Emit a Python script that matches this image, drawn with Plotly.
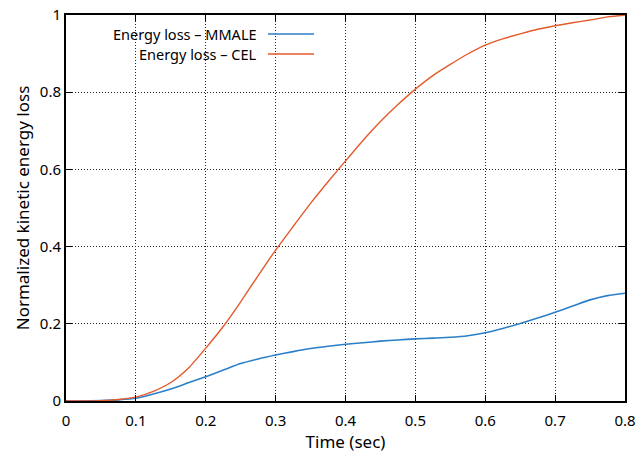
import plotly.graph_objects as go

time = [0, 0.025, 0.05, 0.075, 0.1, 0.125, 0.15, 0.175, 0.2, 0.225, 0.25, 0.275, 0.3, 0.325, 0.35, 0.375,
        0.4, 0.425, 0.45, 0.475, 0.5, 0.525, 0.55, 0.575, 0.6, 0.625, 0.65, 0.675, 0.7, 0.725, 0.75, 0.775, 0.8]
cel = [0, 0, 0.001, 0.004, 0.01, 0.025, 0.048, 0.085, 0.137, 0.193, 0.257, 0.325, 0.391, 0.452, 0.512, 0.568,
       0.622, 0.675, 0.724, 0.768, 0.808, 0.843, 0.872, 0.899, 0.922, 0.938, 0.951, 0.963, 0.972, 0.98, 0.987, 0.995, 1.0]
mmale = [0, 0, 0.001, 0.003, 0.007, 0.018, 0.031, 0.047, 0.063, 0.08, 0.097, 0.109, 0.119, 0.128, 0.136, 0.142,
         0.147, 0.151, 0.155, 0.158, 0.161, 0.163, 0.165, 0.169, 0.177, 0.188, 0.201, 0.215, 0.23, 0.246, 0.262, 0.273, 0.279]

series_names = ["Energy loss – MMALE", "Energy loss – CEL"]
colors = ["#2a7fc9", "#e35a2b"]

x_ticks = [0, 0.1, 0.2, 0.3, 0.4, 0.5, 0.6, 0.7, 0.8]
x_labels = ["0", "0.1", "0.2", "0.3", "0.4", "0.5", "0.6", "0.7", "0.8"]
y_ticks = [0, 0.2, 0.4, 0.6, 0.8, 1.0]
y_labels = ["0", "0.2", "0.4", "0.6", "0.8", "1"]

FONT = "Noto Sans"

fig = go.Figure()
fig.add_trace(go.Scatter(x=time, y=mmale, mode="lines", line=dict(color=colors[0], width=1.6, shape="spline", smoothing=0.6),
                         name=series_names[0], showlegend=False))
fig.add_trace(go.Scatter(x=time, y=cel, mode="lines", line=dict(color=colors[1], width=1.4, shape="spline", smoothing=0.6),
                         name=series_names[1], showlegend=False))

# manual legend (text right-aligned, sample line on the right)
W, H = 638, 456
ml, mr, mt, mb = 66, 13, 15, 55
pw, ph = W - ml - mr, H - mt - mb
def px(xp):
    return (xp - ml) / pw
def py(yp):
    return 1 - (yp - mt) / ph

for i, (nm, c) in enumerate(zip(series_names, colors)):
    yy = 34 + 20 * i
    fig.add_annotation(x=px(259), y=py(yy), xref="paper", yref="paper", text=nm, showarrow=False,
                       xanchor="right", yanchor="middle", font=dict(family=FONT, size=14.5, color="black"))
    fig.add_shape(type="line", xref="paper", yref="paper", x0=px(268), x1=px(314), y0=py(yy), y1=py(yy),
                  line=dict(color=c, width=1.6))

axis_common = dict(showline=True, linecolor="black", linewidth=2, mirror="ticks", ticks="inside",
                   ticklen=6, tickwidth=1.2, tickcolor="black", showgrid=True, gridcolor="#222",
                   gridwidth=1, griddash="1px,2px", zeroline=False, automargin=False,
                   tickfont=dict(family=FONT, size=15, color="black"))

fig.update_xaxes(range=[0, 0.8], tickvals=x_ticks, ticktext=x_labels, ticklabelstandoff=5,
                 title=dict(text="Time (sec)", font=dict(family=FONT, size=17, color="black"), standoff=2),
                 **axis_common)
fig.update_yaxes(range=[0, 1], tickvals=y_ticks, ticktext=y_labels,
                 title=dict(text="Normalized kinetic energy loss", font=dict(family=FONT, size=17, color="black"),
                            standoff=6),
                 **axis_common)

fig.update_layout(width=W, height=H, margin=dict(l=ml, r=mr, t=mt, b=mb),
                  paper_bgcolor="white", plot_bgcolor="white", showlegend=False)

fig.write_html("out.html")
